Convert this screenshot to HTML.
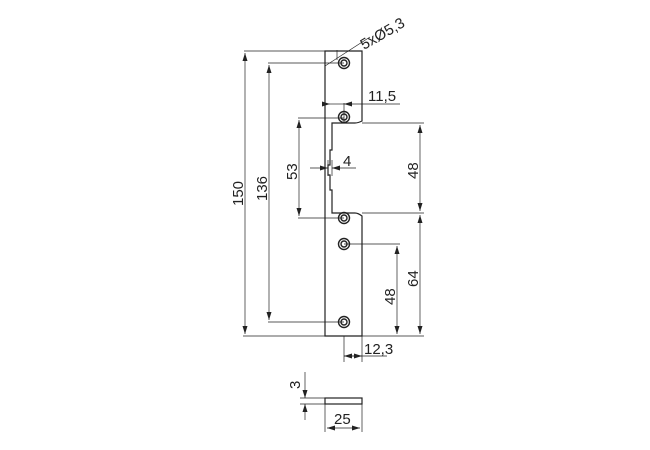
<!DOCTYPE html><html><head><style>body{margin:0;background:#fff}svg{display:block}text{font-family:"Liberation Sans",sans-serif;font-size:15px;fill:#222}</style></head><body>
<svg width="650" height="450" viewBox="0 0 650 450">
<defs><marker id="a" markerWidth="8" markerHeight="6" refX="8" refY="3" orient="auto-start-reverse" markerUnits="userSpaceOnUse"><path d="M0,0.5L8,3L0,5.5z" fill="#222"/></marker></defs>
<g stroke="#222" fill="none" stroke-width="1">
<path d="M325,51H362V121Q358,123 355,123H332V150H330V165H328V175H330V190H332V213H355Q358,213 362,216V336H325Z" stroke-width="1.2"/>
<g stroke-width="1.4">
<circle cx="344" cy="63" r="5.5"/><circle cx="344" cy="63" r="3"/>
<circle cx="344" cy="117" r="5.5"/><circle cx="344" cy="117" r="3"/>
<circle cx="344" cy="218" r="5.5"/><circle cx="344" cy="218" r="3"/>
<circle cx="344" cy="244" r="5.5"/><circle cx="344" cy="244" r="3"/>
<circle cx="344" cy="322" r="5.5"/><circle cx="344" cy="322" r="3"/>
</g>
<g stroke-width="0.7">
<path d="M244,51H325M268,63H344M243,336H424M298,118H344M298,218H344M362,123H424M362,213H424M344,244H400M268,322H344M344,336V362M362,336V362M344,103V123M337,50V60"/>
<line x1="245" y1="53" x2="245" y2="334" marker-start="url(#a)" marker-end="url(#a)"/>
<line x1="269" y1="65" x2="269" y2="320" marker-start="url(#a)" marker-end="url(#a)"/>
<line x1="299" y1="120" x2="299" y2="216" marker-start="url(#a)" marker-end="url(#a)"/>
<line x1="420" y1="125" x2="420" y2="211" marker-start="url(#a)" marker-end="url(#a)"/>
<line x1="420" y1="215" x2="420" y2="334" marker-start="url(#a)" marker-end="url(#a)"/>
<line x1="397" y1="246" x2="397" y2="334" marker-start="url(#a)" marker-end="url(#a)"/>
<line x1="330" y1="104" x2="344" y2="104"/><line x1="322" y1="104" x2="330" y2="104" marker-end="url(#a)"/><line x1="400" y1="104" x2="344" y2="104" marker-end="url(#a)"/>
<line x1="310" y1="168" x2="328" y2="168" marker-end="url(#a)"/><line x1="356" y1="168" x2="332" y2="168" marker-end="url(#a)"/><path d="M328,160V176M332,160V176"/>
<line x1="344" y1="356" x2="387" y2="356"/><line x1="344" y1="356" x2="353" y2="356" marker-start="url(#a)"/><line x1="353" y1="356" x2="362" y2="356" marker-end="url(#a)"/>
<line x1="325" y1="66" x2="370" y2="37"/>
<path d="M300,398H325M300,404H325M325,404V432M362,404V432"/>
<line x1="305" y1="372" x2="305" y2="398" marker-end="url(#a)"/><line x1="305" y1="420" x2="305" y2="404" marker-end="url(#a)"/>
<line x1="327" y1="428" x2="360" y2="428" marker-start="url(#a)" marker-end="url(#a)"/>
</g>
<rect x="325" y="398" width="37" height="6" stroke-width="1.2"/>
</g>
<text x="368" y="101">11,5</text>
<text x="343" y="166">4</text>
<text x="364" y="354">12,3</text>
<text x="334" y="424">25</text>
<text transform="translate(300,389) rotate(-90)">3</text>
<text transform="translate(243,206) rotate(-90)">150</text>
<text transform="translate(267,201) rotate(-90)">136</text>
<text transform="translate(297,180) rotate(-90)">53</text>
<text transform="translate(418,179) rotate(-90)">48</text>
<text transform="translate(418,287) rotate(-90)">64</text>
<text transform="translate(395,305) rotate(-90)">48</text>
<text transform="translate(364,50) rotate(-30)">5xØ5,3</text>
</svg></body></html>
